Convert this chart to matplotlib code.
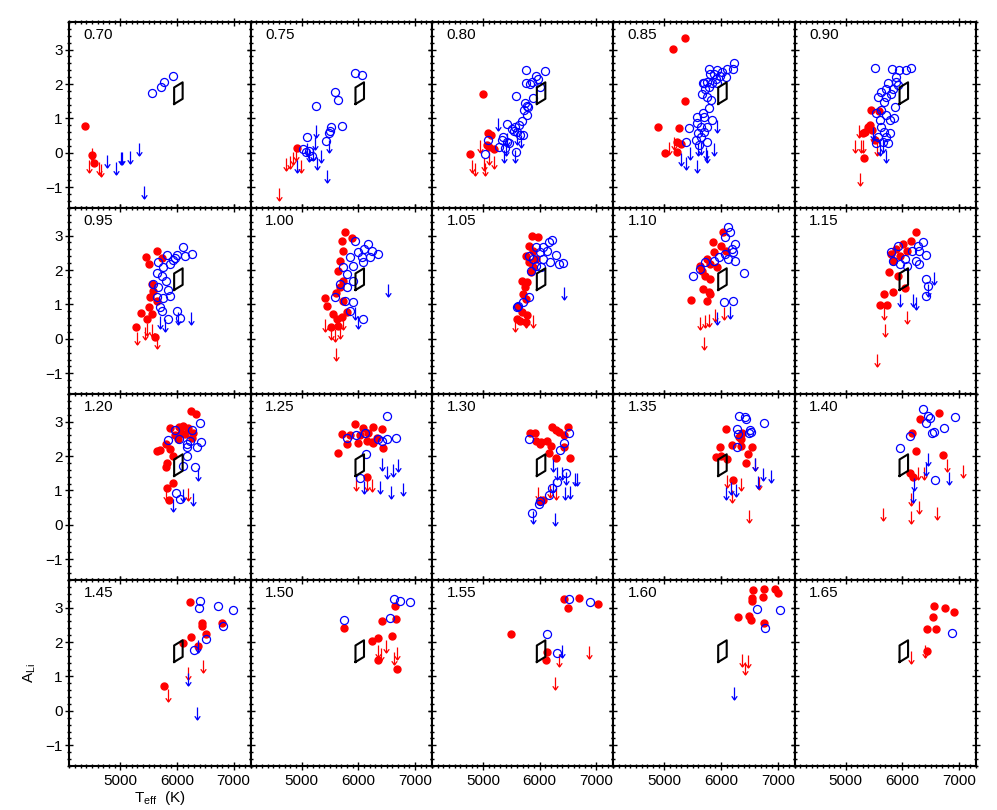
import matplotlib
matplotlib.use('Agg')
import matplotlib.pyplot as plt
from matplotlib.path import Path
from matplotlib.ticker import MultipleLocator, FixedLocator

plt.rcParams['font.family'] = ['Liberation Sans', 'DejaVu Sans']
plt.rcParams['mathtext.fontset'] = 'custom'
plt.rcParams['mathtext.rm'] = 'Liberation Sans'

# panel labels (stellar mass bins)
masses = ['0.70', '0.75', '0.80', '0.85', '0.90',
          '0.95', '1.00', '1.05', '1.10', '1.15',
          '1.20', '1.25', '1.30', '1.35', '1.40',
          '1.45', '1.50', '1.55', '1.60', '1.65']

# reference box (Teff, A_Li)
box_teff = [5950, 5950, 6100, 6100, 5950]
box_ali = [1.42, 1.90, 2.05, 1.57, 1.42]

# red filled circles: detections, group 1
red_dots = {
    '0.70': [(4382, 0.79), (4506, -0.06), (4541, -0.29)],
    '0.75': [(4924, 0.13)],
    '0.80': [(5000, 1.70), (5082, 0.57), (5147, 0.52), (5065, 0.23), (5100, 0.18), (5188, 0.12), (4765, -0.03)],
    '0.85': [(5359, 3.35), (5147, 3.03), (5365, 1.50), (4894, 0.76), (5265, 0.71), (5230, 0.33), (5012, 0.00),
             (5230, 0.02), (5288, 0.26)],
    '0.90': [(5447, 1.25), (5582, 1.22), (5424, 0.81), (5394, 0.74), (5335, 0.62), (5306, 0.57), (5330, -0.15),
             (5512, 0.37), (5471, 0.66)],
    '0.95': [(5453, 2.37), (5653, 2.56), (5512, 2.17), (5730, 2.35), (5553, 1.59), (5524, 1.21), (5512, 0.92),
             (5553, 0.72), (5359, 0.74), (5477, 0.58), (5277, 0.34), (5612, 0.05), (5641, 1.11), (5583, 1.40)],
    '1.00': [(5765, 3.09), (5706, 2.85), (5883, 2.93), (5724, 2.56), (5677, 2.27), (5647, 1.98), (5735, 1.69),
             (5677, 1.50), (5606, 1.32), (5418, 1.19), (5453, 0.96), (5735, 1.11), (5547, 0.72), (5618, 0.58),
             (5512, 0.34), (5706, 0.63), (5794, 0.77), (5647, 0.38)],
    '1.05': [(5862, 3.00), (5969, 2.95), (5812, 2.71), (5875, 2.56), (5762, 2.42), (5938, 2.32), (5812, 2.23),
             (5875, 2.08), (5844, 1.94), (5688, 1.69), (5781, 1.65), (5737, 1.50), (5700, 1.31), (5762, 1.16),
             (5625, 0.94), (5688, 0.78), (5594, 0.58), (5769, 0.68), (5656, 0.53), (5750, 0.49)],
    '1.10': [(6031, 3.09), (5862, 2.80), (6000, 2.71), (6094, 2.56), (5875, 2.51), (5750, 2.32), (5812, 2.18),
             (5937, 2.08), (5625, 2.13), (5656, 1.98), (5719, 1.84), (5812, 1.74), (5687, 1.45), (5781, 1.36),
             (5750, 1.11), (5469, 1.13), (5812, 1.31)],
    '1.15': [(6237, 3.09), (6144, 2.85), (6019, 2.76), (5894, 2.61), (6081, 2.56), (5800, 2.47), (5956, 2.42),
             (5831, 2.27), (5769, 1.94), (5925, 1.84), (5831, 1.36), (5675, 1.29), (5612, 0.99), (5737, 0.99),
             (6050, 1.48)],
    '1.20': [(6241, 3.31), (6335, 3.21), (5877, 2.82), (6041, 2.85), (6112, 2.87), (6200, 2.82), (6065, 2.68),
             (6141, 2.63), (5965, 2.60), (6288, 2.68), (6024, 2.48), (6259, 2.53), (5806, 2.34), (5877, 2.19),
             (5641, 2.15), (5700, 2.17), (5935, 2.00), (5830, 1.79), (5806, 1.69), (5935, 1.23), (5830, 1.08),
             (5865, 0.72)],
    '1.25': [(5941, 2.92), (6088, 2.82), (6265, 2.85), (6412, 2.79), (5706, 2.63), (5853, 2.60), (6030, 2.60),
             (6177, 2.68), (6324, 2.53), (5794, 2.34), (6000, 2.37), (6147, 2.44), (6235, 2.41), (5647, 2.08),
             (6441, 2.24), (6253, 2.39), (6159, 1.40)],
    '1.30': [(5825, 2.68), (5925, 2.66), (6219, 2.83), (6281, 2.76), (6344, 2.71), (6500, 2.83), (5937, 2.45),
             (6031, 2.42), (6137, 2.45), (6000, 2.35), (6200, 2.29), (6425, 2.25), (6156, 2.10), (6281, 1.94),
             (6531, 1.94), (6437, 2.61), (6050, 0.73), (6000, 0.68)],
    '1.35': [(6094, 2.78), (5987, 2.27), (5906, 1.98), (6000, 2.00), (6112, 1.91), (6312, 2.56), (6344, 2.49),
             (6187, 2.32), (6344, 2.29), (6550, 2.27), (6469, 2.06), (6437, 1.79), (6219, 1.29), (6375, 2.66)],
    '1.40': [(6644, 3.26), (6319, 3.07), (6175, 2.66), (6237, 2.16), (6719, 2.03), (6131, 1.52), (6194, 1.38)],
    '1.45': [(6230, 3.15), (6436, 2.56), (6436, 2.46), (6789, 2.56), (6241, 2.15), (6512, 2.23), (6100, 1.98),
             (6377, 1.88), (5777, 0.72)],
    '1.50': [(5753, 2.41), (6647, 3.06), (6412, 2.60), (6665, 2.66), (6235, 2.03), (6341, 2.12), (6600, 2.17),
             (6341, 1.49), (6688, 1.21)],
    '1.55': [(5488, 2.22), (6430, 3.26), (6694, 3.28), (6494, 3.00), (7035, 3.09), (6124, 1.71), (6106, 1.47)],
    '1.60': [(6571, 3.50), (6765, 3.55), (6953, 3.55), (7000, 3.41), (6541, 3.28), (6553, 3.18), (6747, 3.31),
             (6306, 2.73), (6494, 2.75), (6524, 2.63), (6753, 2.56)],
    '1.65': [(6559, 3.04), (6753, 2.99), (6918, 2.87), (6547, 2.73), (6430, 2.39), (6588, 2.39), (6430, 1.73)],
}

# blue open circles: detections, group 2
blue_rings = {
    '0.70': [(5559, 1.73), (5724, 1.90), (5771, 2.07), (5930, 2.23)],
    '0.75': [(5935, 2.31), (6065, 2.26), (5583, 1.76), (5647, 1.55), (5253, 1.36), (5706, 0.77), (5524, 0.75),
             (5500, 0.65), (5477, 0.57), (5435, 0.36), (5088, 0.45), (5030, 0.10), (5077, 0.04), (5130, 0.05),
             (5188, -0.09)],
    '0.80': [(5759, 2.41), (6088, 2.37), (5941, 2.23), (5965, 2.15), (5865, 2.07), (5759, 2.02), (5830, 2.00),
             (6006, 1.90), (5588, 1.64), (5883, 1.58), (5747, 1.44), (5771, 1.36), (5800, 1.32), (5730, 1.25),
             (5783, 1.10), (5683, 0.94), (5641, 0.81), (5430, 0.84), (5559, 0.76), (5506, 0.68), (5547, 0.64),
             (5606, 0.62), (5653, 0.52), (5700, 0.51), (5359, 0.45), (5330, 0.37), (5430, 0.31), (5465, 0.28),
             (5277, 0.18), (5094, 0.37), (5041, -0.03), (5577, 0.04), (5388, 0.13)],
    '0.85': [(6230, 2.60), (6112, 2.43), (6218, 2.43), (5794, 2.43), (5935, 2.41), (6024, 2.36), (5877, 2.29),
             (5806, 2.29), (5983, 2.23), (6083, 2.19), (5906, 2.16), (5700, 2.04), (5747, 2.07), (5677, 2.02),
             (5847, 2.04), (5935, 2.04), (5712, 1.87), (5788, 1.90), (5671, 1.71), (5747, 1.63), (5818, 1.54),
             (5794, 1.29), (5688, 1.15), (5571, 1.05), (5700, 1.03), (5847, 0.97), (5583, 0.86), (5435, 0.71),
             (5641, 0.74), (5759, 0.74), (5594, 0.57), (5700, 0.62), (5641, 0.47), (5553, 0.37), (5377, 0.33),
             (5747, 0.33), (5612, 0.23)],
    '0.90': [(5512, 2.47), (5812, 2.45), (5941, 2.41), (6059, 2.41), (6153, 2.47), (5894, 2.21), (5894, 2.07),
             (5747, 2.02), (5924, 1.97), (5718, 1.85), (5835, 1.85), (5630, 1.78), (5806, 1.71), (5577, 1.61),
             (5706, 1.63), (5671, 1.49), (5865, 1.34), (5541, 1.15), (5630, 1.25), (5706, 1.10), (5777, 0.95),
             (5847, 1.00), (5600, 0.95), (5630, 0.76), (5671, 0.62), (5718, 0.47), (5577, 0.47), (5777, 0.57),
             (5659, 0.33), (5747, 0.28), (5541, 0.28)],
    '0.95': [(6100, 2.66), (6259, 2.46), (6141, 2.42), (6006, 2.45), (5965, 2.35), (5818, 2.45), (5671, 2.22),
             (5759, 2.08), (5877, 2.17), (5935, 2.29), (5641, 1.90), (5730, 1.84), (5806, 1.69), (5583, 1.59),
             (5671, 1.50), (5847, 1.42), (5641, 1.21), (5759, 1.19), (5877, 1.25), (5700, 0.92), (5730, 0.80),
             (5994, 0.80), (6053, 0.61), (5847, 0.58)],
    '1.00': [(5941, 2.85), (6177, 2.77), (6100, 2.61), (6235, 2.56), (6353, 2.46), (6000, 2.51), (5853, 2.37),
             (6059, 2.37), (6206, 2.37), (5912, 2.13), (5735, 2.08), (6088, 2.22), (5794, 1.88), (5900, 1.69),
             (5677, 1.59), (5794, 1.50), (5588, 1.21), (5765, 1.11), (5912, 1.06), (6077, 0.58), (5853, 0.82)],
    '1.05': [(6219, 2.87), (6156, 2.80), (6062, 2.66), (5938, 2.66), (6000, 2.51), (6125, 2.56), (6281, 2.45),
             (5812, 2.42), (5875, 2.32), (6062, 2.32), (6187, 2.23), (6344, 2.18), (6406, 2.20), (5938, 2.13),
             (5844, 1.98), (6031, 2.08), (5812, 1.21), (5700, 1.07), (5594, 0.92), (5625, 0.97)],
    '1.10': [(6125, 3.26), (6156, 3.09), (6062, 2.95), (6250, 2.76), (6187, 2.61), (6062, 2.47), (6219, 2.51),
             (5969, 2.37), (5875, 2.27), (6125, 2.32), (6250, 2.27), (5719, 2.23), (5625, 2.03), (5512, 1.84),
             (6406, 1.91), (6050, 1.07), (6219, 1.09)],
    '1.15': [(6362, 2.80), (6269, 2.71), (5925, 2.71), (5800, 2.51), (6175, 2.56), (6300, 2.56), (6425, 2.45),
             (6050, 2.32), (6237, 2.27), (5831, 2.27), (6300, 2.18), (6081, 2.13), (5956, 2.18), (6425, 1.74),
             (6456, 1.55), (6425, 1.26)],
    '1.20': [(6406, 2.95), (6259, 2.77), (5965, 2.77), (5847, 2.46), (6041, 2.50), (6230, 2.44), (6171, 2.34),
             (6183, 2.27), (6418, 2.41), (6347, 2.27), (6171, 2.00), (6112, 1.71), (6318, 1.69), (5983, 0.92),
             (6053, 0.76)],
    '1.25': [(6512, 3.16), (5806, 2.53), (5959, 2.60), (6118, 2.68), (6353, 2.48), (6412, 2.44), (6500, 2.48),
             (6665, 2.53), (6135, 2.05), (6030, 1.37)],
    '1.30': [(5812, 2.49), (6512, 2.66), (6437, 2.39), (6362, 2.18), (6469, 1.52), (6312, 1.26), (6219, 1.07),
             (6156, 0.87), (6012, 0.68), (5987, 0.61), (5862, 0.36)],
    '1.35': [(6325, 3.16), (6425, 3.12), (6437, 3.07), (6750, 2.97), (6281, 2.78), (6300, 2.64), (6512, 2.76),
             (6531, 2.71), (6500, 2.68), (6281, 2.27)],
    '1.40': [(6362, 3.36), (6456, 3.16), (6487, 3.09), (6925, 3.14), (6425, 2.95), (6737, 2.80), (6550, 2.71),
             (6519, 2.66), (6131, 2.58), (5956, 2.22), (6581, 1.29)],
    '1.45': [(6406, 3.20), (6383, 2.99), (6730, 3.05), (6994, 2.93), (6806, 2.46), (6506, 2.08), (6300, 1.77)],
    '1.50': [(5747, 2.63), (6630, 3.26), (6735, 3.19), (6912, 3.16), (6559, 2.71)],
    '1.55': [(6124, 2.24), (6518, 3.24), (6888, 3.16), (6300, 1.68)],
    '1.60': [(6630, 2.96), (7041, 2.94), (6777, 2.42)],
    '1.65': [(6871, 2.27)],
}

# upper limits (arrow starts at the value)
red_limits = {
    '0.70': [(4453, -0.21), (4618, -0.26), (4659, -0.33), (4506, 0.14)],
    '0.75': [(4606, -1.01), (4718, -0.16), (4794, -0.09), (4853, 0.04), (4894, 0.13), (4982, -0.20)],
    '0.80': [(4800, -0.21), (4865, -0.28), (5024, -0.16), (5041, -0.30), (4953, 0.37), (5188, -0.09), (5106, 0.04)],
    '0.85': [(5082, 0.33), (5171, 0.47)],
    '0.90': [(5247, -0.59), (5230, 0.81), (5165, 0.37), (5265, 0.37), (5306, 0.37), (5559, 0.28), (5482, 0.66)],
    '0.95': [(5300, 0.19), (5435, 0.34), (5477, 0.45), (5641, 0.09), (5553, 0.43)],
    '1.00': [(5412, 0.58), (5512, 0.34), (5588, 0.29), (5606, -0.25), (5677, 0.38), (5724, 0.63)],
    '1.05': [(5562, 0.58), (5750, 0.68), (5887, 0.68)],
    '1.10': [(5637, 0.63), (5719, 0.68), (5781, 0.73), (5887, 0.87), (6050, 0.92), (5706, 0.05)],
    '1.15': [(5675, 0.92), (6081, 0.82), (5694, 0.44), (5550, -0.43)],
    '1.20': [(5806, 1.08), (6200, 1.08)],
    '1.25': [(5959, 1.37), (6235, 1.32), (6147, 1.37)],
    '1.30': [(5969, 1.11), (6187, 1.16), (6281, 1.11)],
    '1.35': [(6112, 1.45), (6344, 1.36), (6675, 1.38), (6200, 1.02), (6500, 0.44), (6594, 1.94)],
    '1.40': [(6781, 1.91), (7069, 1.74), (6269, 1.69), (6381, 1.67), (6144, 0.92), (6300, 0.68), (6612, 0.53),
             (5662, 0.49), (6156, 0.39)],
    '1.45': [(6200, 1.28), (6465, 1.48), (5847, 0.65)],
    '1.50': [(6341, 1.90), (6400, 1.83), (6483, 2.05), (6677, 1.85), (6635, 1.71)],
    '1.55': [(6341, 1.66), (6871, 1.88), (6271, 0.98)],
    '1.60': [(6365, 1.66), (6482, 1.61), (6424, 1.42)],
    '1.65': [(6400, 1.92), (6153, 1.75)],
}

blue_limits = {
    '0.70': [(4759, -0.06), (4918, -0.27), (5006, 0.02), (5035, 0.02), (5171, 0.07), (5324, 0.30), (5424, -0.95)],
    '0.75': [(4924, -0.20), (5088, 0.28), (5247, 0.81), (5229, 0.45), (5265, -0.11), (5335, 0.08), (5482, 0.38),
             (5441, -0.50), (5206, 0.15), (5130, 0.10)],
    '0.80': [(5259, 1.00), (5371, 0.08), (5418, 0.57), (5571, 0.08), (5594, 0.62), (5671, 0.52), (5406, 0.28)],
    '0.85': [(5935, 0.95), (5288, 0.00), (5377, -0.11), (5571, -0.21), (5453, 0.18), (5641, 0.33), (5730, 0.18),
             (5747, 0.08), (5877, 0.28), (5594, 0.28)],
    '0.90': [(5706, 0.08), (5482, 0.76), (5600, 0.28), (5659, 0.37)],
    '0.95': [(6241, 0.77), (6024, 0.77), (5700, 0.67), (5788, 0.58)],
    '1.00': [(6530, 1.59), (5941, 0.92), (6000, 0.67)],
    '1.05': [(6425, 1.50)],
    '1.10': [(6156, 0.97), (5937, 0.78)],
    '1.15': [(6550, 1.94), (6456, 1.60), (5956, 1.31), (6194, 1.31), (6237, 1.21)],
    '1.20': [(6377, 1.66), (6100, 1.03), (6277, 0.94), (5924, 0.74)],
    '1.25': [(6412, 1.95), (6500, 1.71), (6606, 1.76), (6706, 1.90), (6100, 1.27), (6382, 1.27), (6571, 1.13),
             (6783, 1.23)],
    '1.30': [(6237, 1.91), (6300, 1.69), (6387, 1.69), (6469, 1.55), (6625, 1.50), (6656, 1.52), (6237, 1.31),
             (6450, 1.11), (6531, 1.13), (6262, 0.34), (5875, 0.39)],
    '1.35': [(6594, 1.94), (6737, 1.65), (6875, 1.60), (6656, 1.42), (6175, 1.26), (6262, 1.19), (6094, 1.11)],
    '1.40': [(6456, 2.10), (6425, 1.81), (6819, 1.55), (6206, 1.36), (6194, 1.02)],
    '1.45': [(6365, 2.06), (6200, 1.09), (6359, 0.12)],
    '1.50': [],
    '1.55': [(6400, 1.90)],
    '1.60': [(6230, 0.69)],
    '1.65': [],
}

# downward arrow marker, top of the arrow sits on the value
arrow = Path([(0, 0), (0, -1), (-0.22, -0.7), (0, -1), (0.22, -0.7)],
             [Path.MOVETO, Path.LINETO, Path.MOVETO, Path.LINETO, Path.LINETO])


def xy(pts):
    return [p[0] for p in pts], [p[1] for p in pts]


fig, axes = plt.subplots(4, 5, figsize=(9.97, 8.10), dpi=100, sharex=True, sharey=True)
fig.subplots_adjust(left=0.0695, right=0.979, top=0.9728, bottom=0.0543, wspace=0, hspace=0)

for i, ax in enumerate(axes.flat):
    m = masses[i]
    x, y = xy(red_dots[m])
    ax.plot(x, y, 'o', color='red', ms=5, mec='red', zorder=3)
    x, y = xy(blue_rings[m])
    ax.plot(x, y, 'o', mfc='none', mec='blue', ms=5.8, mew=0.9, zorder=4)
    x, y = xy(red_limits[m])
    ax.plot(x, y, ls='none', marker=arrow, mfc='none', mec='red', ms=18, mew=0.9, zorder=3)
    x, y = xy(blue_limits[m])
    ax.plot(x, y, ls='none', marker=arrow, mfc='none', mec='blue', ms=18, mew=0.9, zorder=4)
    ax.plot(box_teff, box_ali, color='black', lw=1.5, zorder=5)

    ax.text(0.08, 0.93, m, transform=ax.transAxes, fontsize=11, ha='left', va='center')

    ax.set_xlim(4100, 7300)
    ax.set_ylim(-1.6, 3.8)
    ax.xaxis.set_major_locator(FixedLocator([5000, 6000, 7000]))
    ax.xaxis.set_minor_locator(MultipleLocator(100))
    ax.yaxis.set_major_locator(FixedLocator([-1, 0, 1, 2, 3]))
    ax.yaxis.set_minor_locator(MultipleLocator(0.2))
    ax.tick_params(which='both', direction='inout', top=True, right=True, labelsize=11, width=1.0)
    ax.tick_params(which='major', length=5.5)
    ax.tick_params(which='minor', length=2.8)
    ax.tick_params(axis='y', pad=2)
    ax.tick_params(axis='x', pad=3)
    for s in ax.spines.values():
        s.set_linewidth(1.5)

axes[3, 0].set_xlabel('T$_{\\mathregular{eff}}$  (K)', fontsize=11, labelpad=1)
axes[3, 0].set_ylabel('A$_{\\mathregular{Li}}$', fontsize=11, labelpad=5)

fig.savefig('out.png', dpi=100)
